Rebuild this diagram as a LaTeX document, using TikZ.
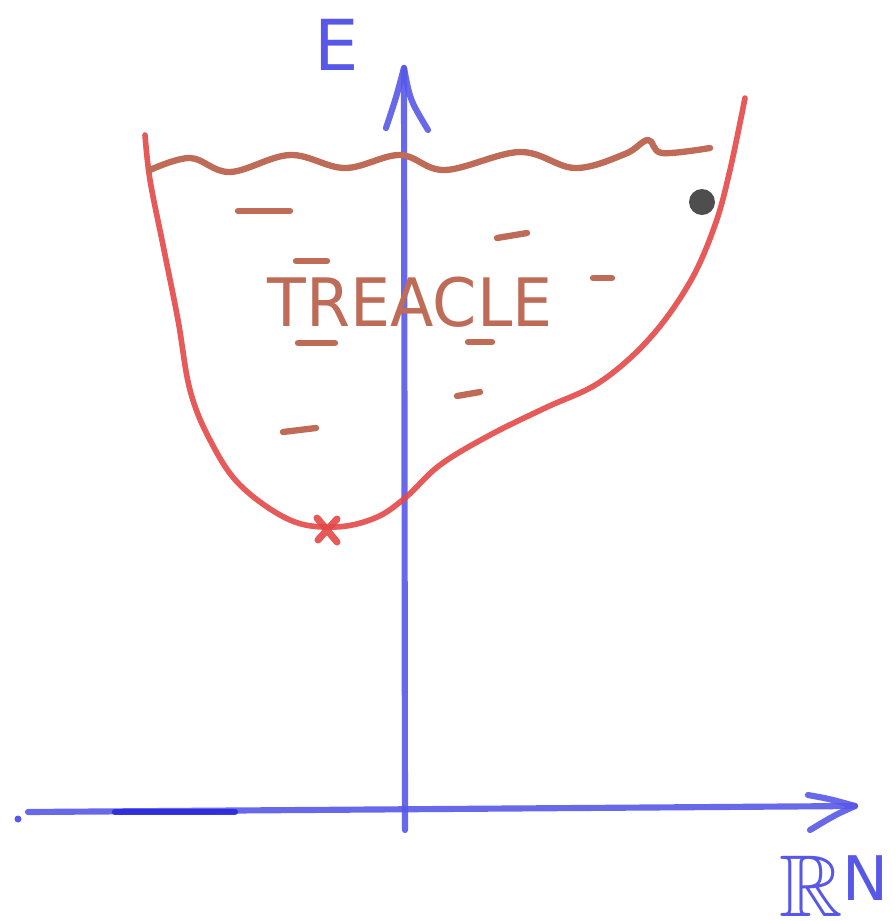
\documentclass[tikz,border=0pt]{standalone}
\usepackage{fontspec}
\usepackage{amssymb}
\setsansfont{DejaVu Sans}
\usetikzlibrary{positioning}

\definecolor{axisblue}{RGB}{88,88,232}
\definecolor{deepblue}{RGB}{40,40,220}
\definecolor{bowlred}{RGB}{228,72,72}
\definecolor{treaclebrown}{RGB}{190,108,88}
\definecolor{balldark}{RGB}{78,78,78}

\begin{document}
\begin{tikzpicture}[
  x=0.02cm, y=-0.02cm,
  % Line Styles
  axisline/.style={draw=axisblue, line width=3.5pt, line cap=round, line join=round, opacity=0.9},
  bowlline/.style={draw=bowlred, line width=3.2pt, line cap=round, line join=round, opacity=0.9},
  treacleline/.style={draw=treaclebrown, line width=3.6pt, line cap=round, line join=round},
  dashmark/.style={draw=treaclebrown, line width=3.6pt, line cap=round},
  % Text Styles
  sketchlabel/.style={text=axisblue, font=\sffamily\fontsize{40}{40}\selectfont, inner sep=0pt},
  treaclelabel/.style={text=treaclebrown, font=\sffamily\fontsize{38}{38}\selectfont, inner sep=0pt, xscale=0.95},
]
\useasboundingbox (0,0) rectangle (894,921);

% Axes
\coordinate (ybottom) at (405,830);
\coordinate (ytop) at (404,68);
\coordinate (xleft) at (28,812);
\coordinate (xright) at (855,806);
\coordinate (xdot) at (18,819);

\draw[axisline] (ybottom) -- (ytop);
\draw[axisline] (386,128) .. controls (396,98) .. (ytop) .. controls (410,100) .. (428,130);
\draw[axisline] (xleft) -- (xright);
\draw[axisline] (808,795) .. controls (830,799) .. (xright) .. controls (835,815) .. (810,830);
\draw[axisline, draw=deepblue] (115,812) -- (235,812);
\fill[axisblue] (xdot) circle (3.5);

\node[sketchlabel] (elabel) at (337,45) {E};
\node[sketchlabel, font=\fontsize{50}{50}\selectfont, anchor=east] (rnlabel) at (890,886) {$\mathbb{R}^{\mathsf{N}}$};

% The bowl
\draw[bowlline] plot[smooth, tension=0.6] coordinates {
  (145,135) (150,180) (163,245) (178,320) (190,390) (210,440)
  (240,485) (290,520) (335,527) (375,518) (405,498) (440,465)
  (490,435) (545,408) (600,382) (650,338) (690,282) (715,225)
  (730,170) (745,98)};

% Treacle surface
\draw[treacleline] plot[smooth, tension=0.6] coordinates {
  (150,170) (190,158) (230,172) (290,155) (345,168) (400,155)
  (445,170) (520,152) (575,168) (625,154) (648,140) (662,153) (710,148)};

% Treacle marks
\foreach \xa/\ya/\xb/\yb in {238/211/290/211, 497/238/527/233, 296/261/327/261,
  593/278/612/278, 298/343/335/343, 468/342/492/342, 457/396/480/392, 283/432/316/428}
  \draw[dashmark] (\xa,\ya) -- (\xb,\yb);

\node[treaclelabel] (treacle) at (410,302) {TREACLE};

% Minimum and ball
\coordinate (minimum) at (327,530);
\draw[bowlline, line width=4pt] (317,518) -- (337,542) (337,519) -- (318,540);
\fill[balldark] (702,202) circle (13);

\end{tikzpicture}
\end{document}
